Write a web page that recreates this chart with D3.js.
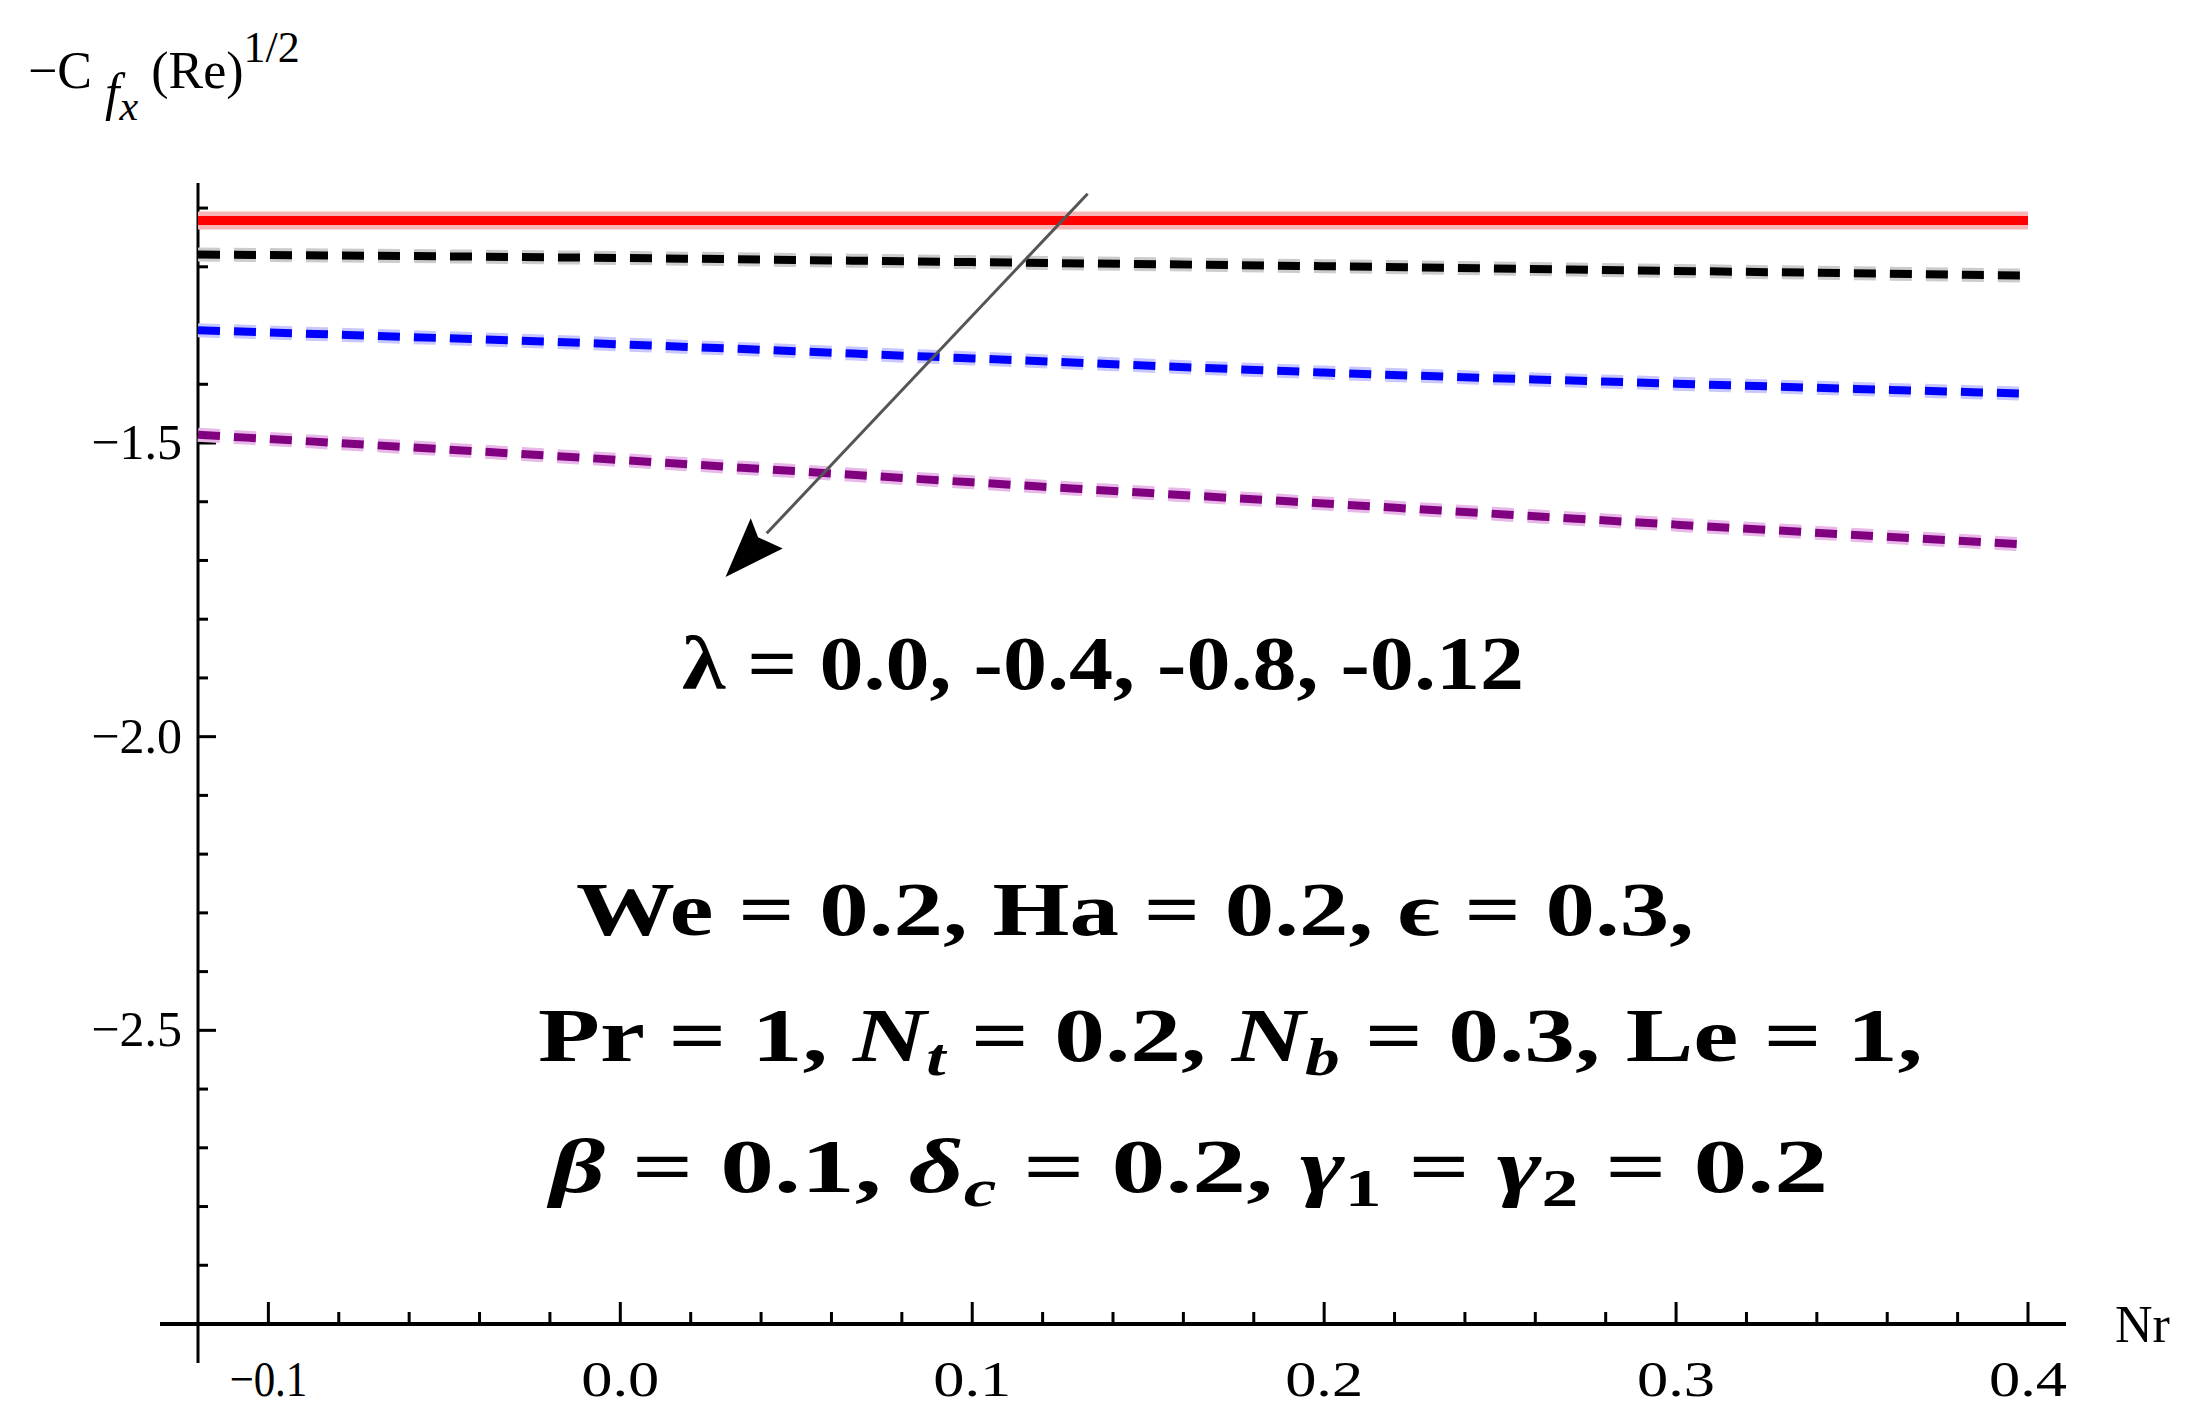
<!DOCTYPE html>
<html><head><meta charset="utf-8">
<script src="https://cdn.jsdelivr.net/npm/d3@7"></script>
<style>body{margin:0;background:#fff}svg{display:block}</style>
</head><body>
<script>
const xs = [-0.12, 0.0, 0.1, 0.2, 0.3, 0.4];
const redVals = [-1.121, -1.121, -1.121, -1.121, -1.121, -1.121];
const blackVals = [-1.179, -1.185, -1.192, -1.199, -1.207, -1.215];
const blueVals = [-1.308, -1.332, -1.356, -1.380, -1.399, -1.416];
const purpleVals = [-1.486, -1.529, -1.567, -1.603, -1.639, -1.673];
const xTickLabels = [-0.1, 0.0, 0.1, 0.2, 0.3, 0.4];
const yTickLabels = [-1.5, -2.0, -2.5];
const arrowPts = [[0.1328, -1.0755], [0.0299, -1.728]];

const W = 2204, H = 1423;
const svg = d3.select("body").append("svg").attr("width", W).attr("height", H);
const x = d3.scaleLinear().domain([-0.12, 0.4]).range([198, 2028]);
const y = d3.scaleLinear().domain([-1.5, -3.0]).range([443, 1324]);
const serif = "'Liberation Serif','Times New Roman',serif";

svg.append("line").attr("x1", 160).attr("x2", 2066).attr("y1", y(-3)).attr("y2", y(-3)).attr("stroke", "#000").attr("stroke-width", 4);
svg.append("line").attr("x1", x(-0.12)).attr("x2", x(-0.12)).attr("y1", 183).attr("y2", 1363).attr("stroke", "#000").attr("stroke-width", 3);
const xt = d3.range(-10, 41, 2).map(d => d / 100);
xt.forEach(t => {
  const major = Math.abs(Math.round(t * 100) % 10) === 0;
  svg.append("line").attr("x1", x(t)).attr("x2", x(t)).attr("y1", y(-3)).attr("y2", y(-3) - (major ? 22 : 12)).attr("stroke", "#000").attr("stroke-width", 3);
});
xTickLabels.forEach(t => {
  svg.append("text").attr("x", x(t)).attr("y", 1396).attr("text-anchor", "middle")
    .attr("font-family", serif).attr("font-size", 50).attr("textLength", 78).attr("lengthAdjust", "spacingAndGlyphs")
    .text(t < 0 ? "\u2212" + Math.abs(t).toFixed(1) : t.toFixed(1));
});
const yt = d3.range(-11, -30, -1).map(d => d / 10);
yt.forEach(t => {
  const major = Math.abs(Math.round(t * 10)) % 5 === 0;
  svg.append("line").attr("x1", x(-0.12)).attr("x2", x(-0.12) + (major ? 18 : 10)).attr("y1", y(t)).attr("y2", y(t)).attr("stroke", "#000").attr("stroke-width", 3);
});
yTickLabels.forEach(t => {
  svg.append("text").attr("x", 182).attr("y", y(t) + 16).attr("text-anchor", "end")
    .attr("font-family", serif).attr("font-size", 50).text("\u2212" + Math.abs(t).toFixed(1));
});
const yl = svg.append("text").attr("x", 28).attr("y", 88).attr("font-family", serif).attr("font-size", 52);
yl.append("tspan").text("\u2212C");
yl.append("tspan").attr("font-style", "italic").attr("dy", 22).text(" f");
yl.append("tspan").attr("font-style", "italic").attr("font-size", 42).attr("dy", 10).text("x");
yl.append("tspan").attr("dy", -32).text(" (Re)");
yl.append("tspan").attr("font-size", 44).attr("dy", -26).text("1/2");
svg.append("text").attr("x", 2115).attr("y", 1342).attr("font-family", serif).attr("font-size", 52).text("Nr");

const line = vals => d3.line().x((d, i) => x(xs[i])).y(d => y(d)).curve(d3.curveMonotoneX)(vals);
svg.append("path").attr("d", line(redVals)).attr("fill", "none").attr("stroke", "#f7b5b5").attr("stroke-width", 18);
svg.append("path").attr("d", line(redVals)).attr("fill", "none").attr("stroke", "#ff0000").attr("stroke-width", 9);
[[blackVals, "#000", "#ccc"], [blueVals, "#0000ff", "#c8c8ff"], [purpleVals, "#800080", "#e8b8e8"]].forEach(([v, c, h]) => {
  svg.append("path").attr("d", line(v)).attr("fill", "none").attr("stroke", h).attr("stroke-width", 14).attr("stroke-dasharray", "22 14");
  svg.append("path").attr("d", line(v)).attr("fill", "none").attr("stroke", c).attr("stroke-width", 8).attr("stroke-dasharray", "22 14");
});

const [p0, p1] = arrowPts;
const ax0 = x(p0[0]), ay0 = y(p0[1]), ax1 = x(p1[0]), ay1 = y(p1[1]);
const ang = Math.atan2(ay1 - ay0, ax1 - ax0);
const L = 60, wd = 22;
const bx = ax1 - L * Math.cos(ang), by = ay1 - L * Math.sin(ang);
svg.append("line").attr("x1", ax0).attr("y1", ay0).attr("x2", bx).attr("y2", by).attr("stroke", "#555").attr("stroke-width", 3);
svg.append("path").attr("d", `M${ax1},${ay1}L${bx + wd * Math.sin(ang)},${by - wd * Math.cos(ang)}L${bx + 0.7 * (ax1 - bx) * 0.3},${by + 0.3 * (ay1 - by) * 0.3}L${bx - wd * Math.sin(ang)},${by + wd * Math.cos(ang)}Z`).attr("fill", "#000");

function txt(xp, yp, len, parts) {
  const t = svg.append("text").attr("x", xp).attr("y", yp).attr("font-family", serif).attr("font-weight", "bold").attr("font-size", 76)
    .attr("textLength", len).attr("lengthAdjust", "spacingAndGlyphs");
  parts.forEach(p => {
    const s = t.append("tspan").text(p[0]);
    if (p[1] === "i") s.attr("font-style", "italic");
    if (p[1] === "sub") s.attr("font-style", "italic").attr("font-size", 52).attr("dy", 14);
    if (p[1] === "subn") s.attr("font-size", 52).attr("dy", 14);
    if (p[2]) s.attr("dy", p[2]);
  });
}
txt(682, 689, 842, [["\u03bb = 0.0, -0.4, -0.8, -0.12"]]);
txt(576, 935, 1118, [["We = 0.2,  Ha = 0.2,  \u03f5 = 0.3,"]]);
txt(538, 1061, 1385, [["Pr = 1,  "], ["N", "i"], ["t", "sub"], [" = 0.2,  ", "", -14], ["N", "i"], ["b", "sub"], [" = 0.3,  Le = 1,", "", -14]]);
txt(550, 1192, 1278, [["\u03b2", "i"], [" = 0.1,  "], ["\u03b4", "i"], ["c", "sub"], [" = 0.2,  ", "", -14], ["\u03b3", "i"], ["1", "subn"], [" = ", "", -14], ["\u03b3", "i"], ["2", "subn"], [" = 0.2", "", -14]]);
</script>
</body></html>
